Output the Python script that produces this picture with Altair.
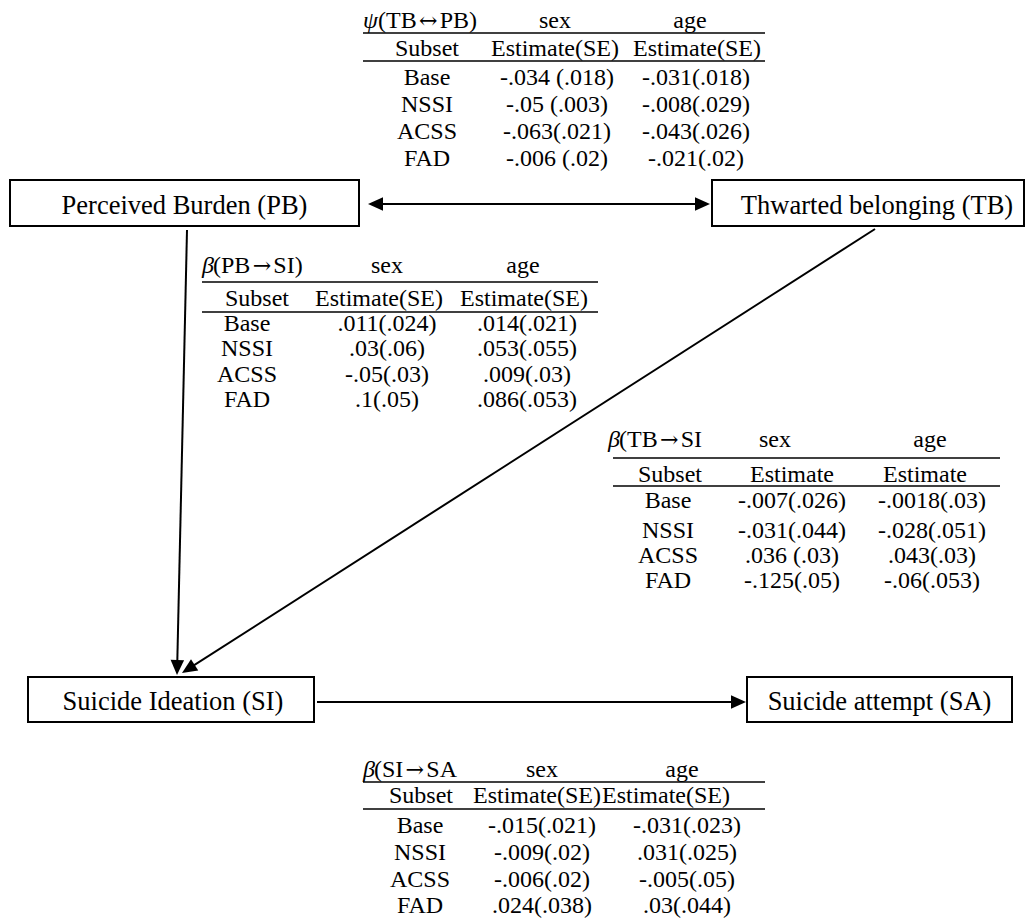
import math
import altair as alt
import pandas as pd

# ---------------- data ----------------
node_ids = ["PB", "TB", "SI", "SA"]
node_labels = ["Perceived Burden (PB)", "Thwarted belonging (TB)",
               "Suicide Ideation (SI)", "Suicide attempt (SA)"]
path_from = ["PB", "PB", "TB", "SI"]
path_to = ["TB", "SI", "SI", "SA"]
path_two_headed = [True, False, False, False]

subsets = ["Base", "NSSI", "ACSS", "FAD"]
moderators = ["sex", "age"]
subset_head = "Subset"

table_symbols = ["ψ", "β", "β", "β"]
table_title_open = ["(TB", "(PB", "(TB", "(SI"]
table_title_arrow = ["↔", "→", "→", "→"]
table_title_close = ["PB)", "SI)", "SI", "SA"]
table_est_heads = ["Estimate(SE)", "Estimate(SE)", "Estimate", "Estimate(SE)"]

psi_tb_pb_sex = ["-.034 (.018)", "-.05 (.003)", "-.063(.021)", "-.006 (.02)"]
psi_tb_pb_age = ["-.031(.018)", "-.008(.029)", "-.043(.026)", "-.021(.02)"]
beta_pb_si_sex = [".011(.024)", ".03(.06)", "-.05(.03)", ".1(.05)"]
beta_pb_si_age = [".014(.021)", ".053(.055)", ".009(.03)", ".086(.053)"]
beta_tb_si_sex = ["-.007(.026)", "-.031(.044)", ".036 (.03)", "-.125(.05)"]
beta_tb_si_age = ["-.0018(.03)", "-.028(.051)", ".043(.03)", "-.06(.053)"]
beta_si_sa_sex = ["-.015(.021)", "-.009(.02)", "-.006(.02)", ".024(.038)"]
beta_si_sa_age = ["-.031(.023)", ".031(.025)", "-.005(.05)", ".03(.044)"]

table_values = [
    (psi_tb_pb_sex, psi_tb_pb_age),
    (beta_pb_si_sex, beta_pb_si_age),
    (beta_tb_si_sex, beta_tb_si_age),
    (beta_si_sa_sex, beta_si_sa_age),
]

# ---------------- layout (pixel positions) ----------------
FONT = "Liberation Serif"
ARROW_FONT = "DejaVu Serif"
TABLE_FS = 24
ARROW_FS = 22
TIMES_W = {"(": 333, ")": 333, "T": 611, "B": 667, "P": 556, "S": 556, "I": 333, "A": 722}
ARROW_W = 22

NODE_BOX = {"PB": (10, 359, 180, 226), "TB": (712, 1024, 180, 226),
            "SI": (28, 314, 677, 722), "SA": (747, 1012, 677, 722)}
NODE_DX = {"PB": 0, "TB": 9, "SI": 2, "SA": 0}
PATH_GEOM = {("PB", "TB"): ((368, 204), (710, 204)),
             ("PB", "SI"): ((187, 230), (177, 675)),
             ("TB", "SI"): ((875, 229), (182, 673)),
             ("SI", "SA"): ((317, 702), (746, 702))}
TABLE_LAYOUT = [
    dict(x0=363, rx0=363, rx1=765, gw=15, title_y=28, rule1=33, sub_y=56, rule2=61,
         rows=[85, 112, 139, 166], lab_x=427, sub_x=427, est_x=(555, 697),
         val_x=(557, 696), head_x=(555, 690)),
    dict(x0=202, rx0=202, rx1=598, gw=11, title_y=273, rule1=282, sub_y=306, rule2=312,
         rows=[331, 356, 382, 407], lab_x=247, sub_x=257, est_x=(379, 524),
         val_x=(387, 527), head_x=(387, 523)),
    dict(x0=608, rx0=613, rx1=1000, gw=11, title_y=447, rule1=458, sub_y=482, rule2=486,
         rows=[508, 538, 563, 588], lab_x=668, sub_x=670, est_x=(792, 925),
         val_x=(792, 932), head_x=(775, 930)),
    dict(x0=363, rx0=363, rx1=765, gw=11, title_y=777, rule1=782, sub_y=803, rule2=809,
         rows=[833, 860, 887, 913], lab_x=420, sub_x=421, est_x=(537, 666),
         val_x=(542, 687), head_x=(542, 682)),
]
HEAD_R = 7.5  # half length of arrowhead
HEAD_SHAPE = "M0,-1L-0.9,1L0.9,1Z"


def text_w(s):
    return sum(TIMES_W.get(c, 500) for c in s) * TABLE_FS / 1000.0


# ---------------- build tables ----------------
boxes = pd.DataFrame([{"x": NODE_BOX[n][0], "x2": NODE_BOX[n][1],
                       "y": NODE_BOX[n][2], "y2": NODE_BOX[n][3]} for n in node_ids])
node_text = pd.DataFrame([{"x": (NODE_BOX[n][0] + NODE_BOX[n][1]) / 2 + NODE_DX[n],
                           "y": NODE_BOX[n][3] - 12.5, "text": lab}
                          for n, lab in zip(node_ids, node_labels)])

line_rows, head_rows = [], []
for a, b, both in zip(path_from, path_to, path_two_headed):
    (x1, y1), (x2, y2) = PATH_GEOM[(a, b)]
    L = math.hypot(x2 - x1, y2 - y1)
    ux, uy = (x2 - x1) / L, (y2 - y1) / L
    ends = [((x2, y2), (ux, uy))]
    if both:
        ends.append(((x1, y1), (-ux, -uy)))
    sx, sy = (x1 + ux * HEAD_R, y1 + uy * HEAD_R) if both else (x1, y1)
    ex, ey = x2 - ux * HEAD_R, y2 - uy * HEAD_R
    line_rows.append({"x": sx, "y": sy, "x2": ex, "y2": ey})
    for (tx, ty), (dx, dy) in ends:
        ang = math.degrees(math.atan2(dx, -dy)) % 360
        head_rows.append({"x": tx - dx * HEAD_R, "y": ty - dy * HEAD_R, "angle": ang})
lines = pd.DataFrame(line_rows)
heads = pd.DataFrame(head_rows)

rule_rows, ctext_rows, title_rows, greek_rows, arrow_rows = [], [], [], [], []
for t, lay in enumerate(TABLE_LAYOUT):
    sex_vals, age_vals = table_values[t]
    for ry in (lay["rule1"], lay["rule2"]):
        rule_rows.append({"x": lay["rx0"], "x2": lay["rx1"], "y": ry, "y2": ry})
    greek_rows.append({"x": lay["x0"], "y": lay["title_y"], "text": table_symbols[t]})
    ox = lay["x0"] + lay["gw"]
    title_rows.append({"x": ox, "y": lay["title_y"], "text": table_title_open[t]})
    ax = ox + text_w(table_title_open[t])
    arrow_rows.append({"x": ax + ARROW_W / 2 + 0.5, "y": lay["title_y"] - 0.3 * ARROW_FS,
                       "text": table_title_arrow[t]})
    title_rows.append({"x": ax + ARROW_W + 1, "y": lay["title_y"], "text": table_title_close[t]})
    for m, hx in zip(moderators, lay["head_x"]):
        ctext_rows.append({"x": hx, "y": lay["title_y"], "text": m})
    ctext_rows.append({"x": lay["sub_x"], "y": lay["sub_y"], "text": subset_head})
    for ex in lay["est_x"]:
        ctext_rows.append({"x": ex, "y": lay["sub_y"], "text": table_est_heads[t]})
    for i, s in enumerate(subsets):
        ry = lay["rows"][i]
        ctext_rows.append({"x": lay["lab_x"], "y": ry, "text": s})
        ctext_rows.append({"x": lay["val_x"][0], "y": ry, "text": sex_vals[i]})
        ctext_rows.append({"x": lay["val_x"][1], "y": ry, "text": age_vals[i]})
rules = pd.DataFrame(rule_rows)
ctext = pd.DataFrame(ctext_rows)
ttext = pd.DataFrame(title_rows)
gtext = pd.DataFrame(greek_rows)
atext = pd.DataFrame(arrow_rows)

# ---------------- chart ----------------
X = alt.X("x:Q", scale=alt.Scale(domain=[8, 1025], nice=False, zero=False), axis=None)
Y = alt.Y("y:Q", scale=alt.Scale(domain=[8, 919], reverse=True, nice=False, zero=False), axis=None)

line_layer = alt.Chart(lines).mark_rule(color="black", strokeWidth=2).encode(
    x=X, y=Y, x2="x2:Q", y2="y2:Q")
head_layer = alt.Chart(heads).mark_point(
    shape=HEAD_SHAPE, filled=True, size=(2 * HEAD_R) ** 2, color="black", opacity=1,
    strokeWidth=0).encode(x=X, y=Y, angle=alt.Angle("angle:Q", scale=None))
box_layer = alt.Chart(boxes).mark_rect(fill="white", stroke="black", strokeWidth=2).encode(
    x=X, y=Y, x2="x2:Q", y2="y2:Q")
node_layer = alt.Chart(node_text).mark_text(
    font=FONT, fontSize=26.5, align="center", baseline="alphabetic", color="black").encode(
    x=X, y=Y, text="text:N")
rule_layer = alt.Chart(rules).mark_rule(color="black", strokeWidth=1.5).encode(
    x=X, y=Y, x2="x2:Q", y2="y2:Q")
ctext_layer = alt.Chart(ctext).mark_text(
    font=FONT, fontSize=TABLE_FS, align="center", baseline="alphabetic", color="black").encode(
    x=X, y=Y, text="text:N")
ttext_layer = alt.Chart(ttext).mark_text(
    font=FONT, fontSize=TABLE_FS, align="left", baseline="alphabetic", color="black").encode(
    x=X, y=Y, text="text:N")
atext_layer = alt.Chart(atext).mark_text(
    font=ARROW_FONT, fontSize=ARROW_FS, align="center", baseline="middle", color="black").encode(
    x=X, y=Y, text="text:N")
gtext_layer = alt.Chart(gtext).mark_text(
    font=FONT, fontSize=TABLE_FS, fontStyle="italic", align="left", baseline="alphabetic",
    color="black").encode(x=X, y=Y, text="text:N")

chart = alt.layer(
    line_layer, head_layer, box_layer, node_layer, rule_layer,
    ctext_layer, ttext_layer, atext_layer, gtext_layer
).properties(
    width=1017, height=911, padding=0, autosize=alt.AutoSizeParams(type="none"),
    background="white"
).configure_view(stroke=None)

chart.save("out.html", embed_options={"renderer": "svg", "actions": False})
